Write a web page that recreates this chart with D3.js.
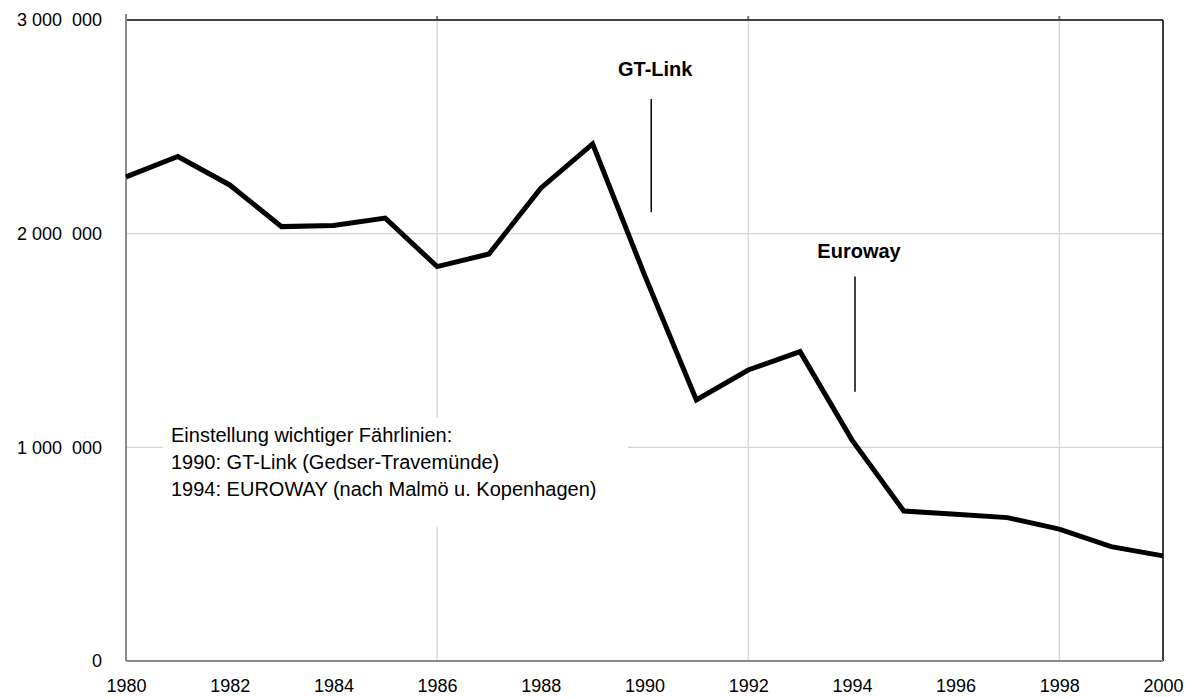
<!DOCTYPE html>
<html>
<head>
<meta charset="utf-8">
<script src="https://cdn.jsdelivr.net/npm/d3@7"></script>
<style>
  body { margin: 0; background: #fff; }
  svg { font-family: "Liberation Sans", Arial, sans-serif; }
</style>
</head>
<body>
<svg id="chart" width="1189" height="697"></svg>
<script>
// Data
const years = [1980, 1981, 1982, 1983, 1984, 1985, 1986, 1987, 1988, 1989, 1990,
               1991, 1992, 1993, 1994, 1995, 1996, 1997, 1998, 1999, 2000];
const passengers = [2266000, 2361000, 2228000, 2033000, 2038000, 2073000, 1846000, 1905000, 2213000, 2420000, 1807000,
                    1222000, 1362000, 1448000, 1035000, 702000, 687000, 671000, 617000, 535000, 492000];
const yTicks = [0, 1000000, 2000000, 3000000];
const yTickLabels = ["0", "1 000  000", "2 000  000", "3 000  000"];
const xTicks = [1980, 1982, 1984, 1986, 1988, 1990, 1992, 1994, 1996, 1998, 2000];
const xGrid = [1986, 1992, 1998];
const markers = [
  { label: "GT-Link", year: 1990.13, top: 2630000, bottom: 2100000, labelAt: 2740000 },
  { label: "Euroway", year: 1994.06, top: 1800000, bottom: 1260000, labelAt: 1885000 }
];
const noteLines = [
  "Einstellung wichtiger Fährlinien:",
  "1990: GT-Link (Gedser-Travemünde)",
  "1994: EUROWAY (nach Malmö u. Kopenhagen)"
];

const svg = d3.select("#chart");
const margin = { top: 20, right: 26, bottom: 36, left: 126 };
const width = 1189 - margin.left - margin.right;
const height = 697 - margin.top - margin.bottom;

const g = svg.append("g").attr("transform", `translate(${margin.left},${margin.top})`);

const x = d3.scaleLinear().domain([1980, 2000]).range([0, width]);
const y = d3.scaleLinear().domain([0, 3000000]).range([height, 0]);

// Gridlines
g.append("g")
  .selectAll("line")
  .data(xGrid)
  .enter().append("line")
  .attr("x1", d => x(d)).attr("x2", d => x(d))
  .attr("y1", 0).attr("y2", height)
  .attr("stroke", "#d4d4d4").attr("stroke-width", 1.2);

g.append("g")
  .selectAll("line")
  .data(yTicks.slice(1, -1))
  .enter().append("line")
  .attr("x1", 0).attr("x2", width)
  .attr("y1", d => y(d)).attr("y2", d => y(d))
  .attr("stroke", "#d4d4d4").attr("stroke-width", 1.2);

// Small ticks above the top border
g.append("g")
  .selectAll("line")
  .data(xGrid)
  .enter().append("line")
  .attr("x1", d => x(d)).attr("x2", d => x(d))
  .attr("y1", -4).attr("y2", 0)
  .attr("stroke", "#777").attr("stroke-width", 2);

// Frame: top dark, right black, left and bottom gray axes
g.append("line").attr("x1", 0).attr("x2", width).attr("y1", 0).attr("y2", 0)
  .attr("stroke", "#444").attr("stroke-width", 2);
g.append("line").attr("x1", width).attr("x2", width).attr("y1", 0).attr("y2", height)
  .attr("stroke", "#000").attr("stroke-width", 1.5);
g.append("line").attr("x1", 0).attr("x2", width).attr("y1", height).attr("y2", height)
  .attr("stroke", "#8a8a8a").attr("stroke-width", 2);
g.append("line").attr("x1", 0).attr("x2", 0).attr("y1", -6).attr("y2", height)
  .attr("stroke", "#8a8a8a").attr("stroke-width", 2);

// Y axis labels
const yAxis = g.append("g")
  .call(d3.axisLeft(y).tickValues(yTicks).tickSize(0).tickPadding(24)
    .tickFormat((d, i) => yTickLabels[i]));
yAxis.select(".domain").remove();
yAxis.selectAll("text")
  .attr("font-size", 18).attr("fill", "#000")
  .attr("font-family", "Liberation Sans, Arial, sans-serif")
  .style("white-space", "pre");

// X axis labels
const xAxis = g.append("g")
  .attr("transform", `translate(0,${height})`)
  .call(d3.axisBottom(x).tickValues(xTicks).tickSize(0).tickPadding(18).tickFormat(d3.format("d")));
xAxis.select(".domain").remove();
xAxis.selectAll("text")
  .attr("font-size", 18).attr("fill", "#000")
  .attr("font-family", "Liberation Sans, Arial, sans-serif");

// Note box (white background hides gridlines)
const noteG = g.append("g");
noteG.append("rect")
  .attr("x", 163 - margin.left).attr("y", 418 - margin.top)
  .attr("width", 465).attr("height", 109)
  .attr("fill", "#fff");
noteG.selectAll("text")
  .data(noteLines)
  .enter().append("text")
  .attr("x", 171 - margin.left)
  .attr("y", (d, i) => 442 - margin.top + i * 27)
  .attr("font-size", 20)
  .attr("fill", "#000")
  .text(d => d);

// Main line
const line = d3.line()
  .x((d, i) => x(years[i]))
  .y(d => y(d));

g.append("path")
  .datum(passengers)
  .attr("fill", "none")
  .attr("stroke", "#000")
  .attr("stroke-width", 5)
  .attr("stroke-linejoin", "miter")
  .attr("d", line);

// Event markers
markers.forEach(m => {
  g.append("line")
    .attr("x1", x(m.year)).attr("x2", x(m.year))
    .attr("y1", y(m.top)).attr("y2", y(m.bottom))
    .attr("stroke", "#000").attr("stroke-width", 1.5);
  g.append("text")
    .attr("x", x(m.year) + 4)
    .attr("y", y(m.labelAt))
    .attr("text-anchor", "middle")
    .attr("font-size", 20)
    .attr("font-weight", "bold")
    .text(m.label);
});
</script>
</body>
</html>
